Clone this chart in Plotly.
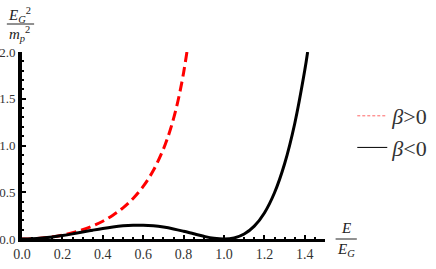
import plotly.graph_objects as go

# values
x_pos = [0, 0.05, 0.1, 0.15, 0.2, 0.25, 0.3, 0.35, 0.4, 0.45, 0.5, 0.55, 0.6, 0.65, 0.7, 0.72, 0.74, 0.76, 0.78, 0.8, 0.8165]
y_pos = [0, 0.0025, 0.010, 0.023, 0.042, 0.067, 0.099, 0.140, 0.190, 0.254, 0.333, 0.434, 0.563, 0.732, 0.961, 1.076, 1.210, 1.367, 1.554, 1.778, 2.0]

x_neg = [0, 0.05, 0.1, 0.15, 0.2, 0.25, 0.3, 0.35, 0.4, 0.45, 0.5, 0.55, 0.6, 0.65, 0.7, 0.75, 0.8, 0.85, 0.9, 0.95, 1.0,
         1.05, 1.1, 1.15, 1.2, 1.25, 1.3, 1.35, 1.4, 1.414]
y_neg = [0, 0.0025, 0.0098, 0.0215, 0.0369, 0.0549, 0.0745, 0.0943, 0.1129, 0.1288, 0.1406, 0.1472, 0.1475, 0.1409, 0.1274,
         0.1077, 0.0829, 0.0556, 0.0292, 0.0086, 0, 0.0116, 0.0534, 0.1375, 0.2788, 0.4944, 0.8046, 1.2329, 1.8063, 2.0]

x_ticks = [0.0, 0.2, 0.4, 0.6, 0.8, 1.0, 1.2, 1.4]
y_ticks = [0.0, 0.5, 1.0, 1.5, 2.0]
legend_labels = ["<i>β</i>>0", "<i>β</i><0"]

SERIF = "Times New Roman, Liberation Serif, serif"

fig = go.Figure()
fig.add_trace(go.Scatter(x=x_pos, y=y_pos, mode="lines", line=dict(color="#ff0000", width=3, dash="10px,5px", shape="spline"),
                         showlegend=False, cliponaxis=False))
fig.add_trace(go.Scatter(x=x_neg, y=y_neg, mode="lines", line=dict(color="black", width=3, shape="spline"),
                         showlegend=False, cliponaxis=False))
# legend-only entries (thin line samples as in the reference)
fig.add_trace(go.Scatter(x=[None], y=[None], mode="lines", name=legend_labels[0],
                         line=dict(color="#ff6666", width=1, dash="3px,2px")))
fig.add_trace(go.Scatter(x=[None], y=[None], mode="lines", name=legend_labels[1],
                         line=dict(color="black", width=1)))

fig.update_layout(
    width=436, height=269,
    margin=dict(l=22, r=111, t=52, b=30, autoexpand=False),
    paper_bgcolor="white", plot_bgcolor="white",
    font=dict(family=SERIF, size=13, color="#333"),
    legend=dict(x=1.09, y=0.77, xanchor="left", yanchor="top", itemwidth=30,
                font=dict(family=SERIF, size=22, color="#333"), bgcolor="rgba(0,0,0,0)",
                tracegroupgap=0),
    xaxis=dict(range=[0, 1.5], tickvals=x_ticks, ticktext=[f"{v:.1f}" for v in x_ticks], automargin=False,
               showgrid=False, zeroline=False, showline=True, linecolor="black", linewidth=3,
               ticks="inside", ticklen=4, tickwidth=1.5, tickcolor="black",
               minor=dict(dtick=0.05, ticks="inside", ticklen=2, tickcolor="black"),
               tickfont=dict(family=SERIF, size=14, color="#333")),
    yaxis=dict(range=[0, 2.0], tickvals=y_ticks, ticktext=[f"{v:.1f}" for v in y_ticks], automargin=False,
               showgrid=False, zeroline=False, showline=True, linecolor="black", linewidth=4,
               ticks="inside", ticklen=4, tickwidth=1.5, tickcolor="black",
               minor=dict(dtick=0.1, ticks="inside", ticklen=2, tickcolor="black"),
               tickfont=dict(family=SERIF, size=13, color="#333"), ticklabelstandoff=0),
)

# axis labels as fractions
fig.add_annotation(xref="paper", yref="paper", x=-0.007, y=1.0, yshift=37, text="<i>E<sub>G</sub></i><sup>2</sup>",
                   showarrow=False, xanchor="center", yanchor="middle", font=dict(family=SERIF, size=15, color="#222"))
fig.add_annotation(xref="paper", yref="paper", x=-0.007, y=1.0, yshift=18, text="<i>m<sub>p</sub></i><sup>2</sup>",
                   showarrow=False, xanchor="center", yanchor="middle", font=dict(family=SERIF, size=15, color="#222"))
fig.add_shape(type="line", xref="paper", yref="paper", x0=-0.05, x1=0.04, y0=1.1497, y1=1.1497,
              line=dict(color="#222", width=1))

fig.add_annotation(xref="paper", yref="paper", x=1.07, y=0.0, yshift=11, text="<i>E</i>",
                   showarrow=False, xanchor="center", yanchor="middle", font=dict(family=SERIF, size=15, color="#222"))
fig.add_annotation(xref="paper", yref="paper", x=1.07, y=0.0, yshift=-11, text="<i>E<sub>G</sub></i>",
                   showarrow=False, xanchor="center", yanchor="middle", font=dict(family=SERIF, size=15, color="#222"))
fig.add_shape(type="line", xref="paper", yref="paper", x0=1.035, x1=1.105, y0=0.0, y1=0.0,
              line=dict(color="#222", width=1))

fig.write_html("out.html", config={"displayModeBar": False},
               post_script="document.body.style.margin='0px';")
